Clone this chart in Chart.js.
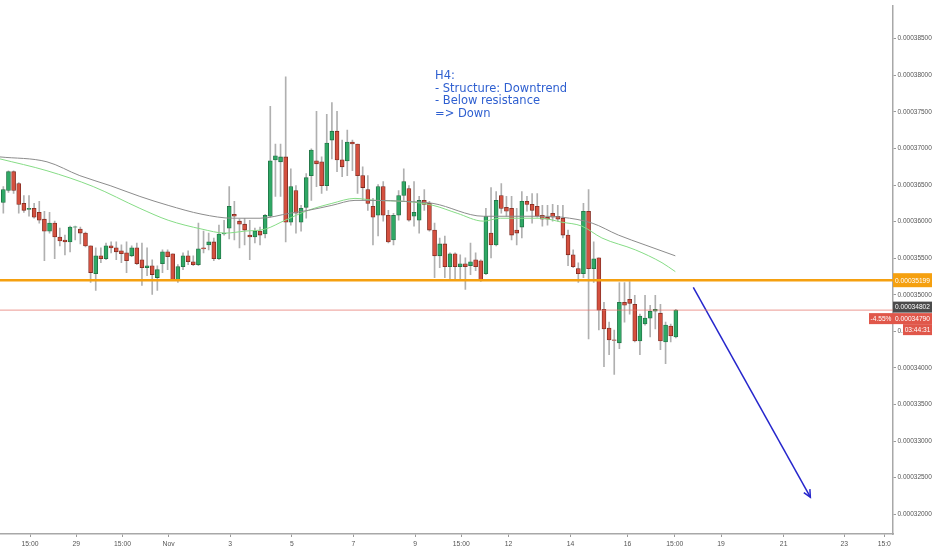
<!DOCTYPE html>
<html>
<head>
<meta charset="utf-8">
<title>H4 chart</title>
<script src="https://cdn.jsdelivr.net/npm/chart.js@4.4.0/dist/chart.umd.min.js"></script>
<style>
html, body { margin: 0; padding: 0; background: #fff; }
#wrap { position: relative; width: 932px; height: 550px; }
</style>
</head>
<body>
<div id="wrap"><canvas id="chart"></canvas></div>
<script>
"use strict";

// prices are kept in units of 1e-8 (36262 -> 0.00036262), one H4 candle per index
const opens = [
  36262, 36425, 36682, 36519, 36249, 36168, 36181, 36127, 36033, 35870,
  35979, 35789, 35749, 35722, 35925, 35897, 35843, 35668, 35289, 35532,
  35492, 35668, 35641, 35600, 35573, 35532, 35641, 35478, 35370, 35397,
  35235, 35424, 35587, 35560, 35194, 35384, 35532, 35451, 35411, 35641,
  35681, 35722, 35492, 35830, 35911, 36100, 36006, 35965, 35816, 35789,
  35870, 35830, 36073, 36844, 36817, 36884, 35992, 36425, 35992, 36195,
  36628, 36830, 36817, 36492, 37114, 37236, 36844, 36830, 37087, 37060,
  36628, 36438, 36208, 36087, 36479, 36087, 35749, 36087, 36357, 36452,
  36073, 36019, 36290, 36249, 35884, 35532, 35695, 35384, 35560, 35384,
  35424, 35397, 35478, 35465, 35289, 35843, 35681, 36357, 36195, 36181,
  35884, 35925, 36276, 36235, 36208, 36087, 36060, 36114, 36073, 36046,
  35816, 35546, 35357, 35289, 36141, 35357, 35505, 34802, 34545, 34383,
  34343, 34897, 34938, 34870, 34370, 34600, 34681, 34775, 34748, 34356,
  34572, 34424
];
const highs = [
  36479, 36695, 36695, 36533, 36357, 36357, 36249, 36276, 36141, 36127,
  36006, 35911, 35816, 35938, 35938, 35925, 35857, 35668, 35641, 35641,
  35708, 35722, 35722, 35681, 35722, 35668, 35708, 35708, 35641, 35478,
  35397, 35614, 35614, 35560, 35411, 35573, 35600, 35532, 35979, 35870,
  35843, 35776, 35952, 36019, 36479, 36276, 36033, 36046, 36019, 35911,
  35925, 36100, 37574, 37060, 37060, 37980, 36722, 36492, 36222, 36655,
  36993, 37506, 36884, 37466, 37628, 37506, 37114, 37250, 37114, 37060,
  36749, 36628, 36317, 36506, 36546, 36154, 36114, 36425, 36722, 36492,
  36546, 36344, 36438, 36276, 35979, 35776, 35803, 35573, 35573, 35546,
  35505, 35708, 35573, 35478, 36181, 36465, 36411, 36519, 36344, 36344,
  36181, 36411, 36344, 36384, 36384, 36222, 36222, 36235, 36222, 36222,
  35884, 35614, 35438, 36249, 36438, 35722, 35505, 34897, 34627, 34518,
  35167, 35167, 35181, 34992, 34735, 34992, 34856, 34992, 34870, 34627,
  34600, 34802
];
const lows = [
  36114, 36398, 36384, 36114, 36127, 36073, 36046, 35979, 35465, 35843,
  35492, 35668, 35546, 35587, 35749, 35695, 35654, 35167, 35059, 35438,
  35478, 35573, 35478, 35438, 35303, 35519, 35411, 35127, 35262, 35005,
  35059, 35303, 35343, 35194, 35167, 35343, 35411, 35397, 35397, 35573,
  35614, 35465, 35478, 35816, 35762, 35749, 35641, 35681, 35478, 35708,
  35681, 35776, 36060, 36344, 36344, 35722, 35952, 35843, 35870, 36046,
  36290, 36479, 36384, 36425, 36857, 36682, 36614, 36628, 36695, 36384,
  36290, 36154, 35681, 35803, 36006, 35708, 35681, 36019, 36290, 36006,
  35938, 35843, 36154, 35870, 35235, 35370, 35235, 35208, 35208, 35208,
  35073, 35276, 35330, 35181, 35276, 35505, 35668, 36114, 36073, 35749,
  35681, 35776, 36141, 35979, 36060, 35938, 35952, 36006, 36006, 35776,
  35397, 35370, 35167, 35235, 34397, 35167, 34518, 34018, 34180, 33910,
  34262, 34627, 34735, 34356, 34180, 34586, 34424, 34532, 34248, 34059,
  34356, 34410
];
const closes = [
  36438, 36682, 36425, 36235, 36154, 36181, 36060, 36019, 35870, 35979,
  35789, 35735, 35722, 35925, 35930, 35843, 35668, 35303, 35532, 35492,
  35668, 35641, 35587, 35560, 35465, 35641, 35424, 35370, 35397, 35276,
  35343, 35587, 35519, 35208, 35384, 35532, 35451, 35411, 35627, 35627,
  35722, 35492, 35830, 35843, 36208, 36073, 35965, 35884, 35789, 35870,
  35816, 36087, 36830, 36898, 36884, 35992, 36479, 36114, 36181, 36600,
  36979, 36790, 36492, 37074, 37236, 36844, 36749, 37087, 37060, 36628,
  36465, 36249, 36060, 36479, 36087, 35722, 36087, 36357, 36546, 36019,
  36127, 36290, 36235, 35884, 35532, 35695, 35384, 35560, 35384, 35424,
  35384, 35451, 35384, 35194, 36073, 35681, 36290, 36181, 36141, 35816,
  35843, 36276, 36235, 36154, 36073, 36033, 36033, 36060, 36033, 35816,
  35546, 35384, 35289, 36141, 35357, 35492, 34789, 34532, 34383, 34376,
  34897, 34856, 34883, 34370, 34708, 34681, 34775, 34802, 34370, 34586,
  34437, 34790
];

// moving averages read at a few candle positions
const slowMaAt = [-0.65, 8.5, 14.9, 20.8, 26.6, 32.1, 38.7, 44.7, 50.0, 55.8, 59.4, 64.0,
  68.5, 72.4, 78.3, 83.7, 93.5, 104.6, 108.8, 114.7, 119.8, 125.0, 130.9];
const slowMa = [36884, 36817, 36628, 36492, 36344, 36222, 36100, 36046, 36046, 36114, 36154, 36222,
  36290, 36290, 36276, 36249, 36073, 36073, 36060, 35979, 35816, 35681, 35532];
const fastMaAt = [-0.65, 8.5, 17.5, 26.6, 32.1, 38.7, 43.2, 47.1, 51.0, 54.9, 59.4, 64.0, 68.5,
  72.4, 78.3, 83.7, 88.4, 93.5, 96.8, 104.6, 108.8, 112.7, 116.6, 123.1, 128.3, 130.9];
const fastMa = [36857, 36695, 36479, 36181, 36019, 35897, 35843, 35870, 35897, 36019, 36154, 36249, 36317,
  36290, 36276, 36222, 36114, 36006, 36046, 36046, 35992, 35938, 35776, 35614, 35438, 35316];

const resistance = 35199;
const lastPrice = 34790;
const refPrice = 34802;
const changeText = '-4.55%';
const countdown = '03:44:31';

const arrowAt = [134.4, 157.2];
const arrowPrice = [35100, 32234];

const noteLines = ['H4:', '- Structure: Downtrend', '- Below resistance', '=> Down'];

const priceTicks = [32000, 32500, 33000, 33500, 34000, 34500, 35000, 35500, 36000, 36500, 37000, 37500, 38000, 38500];
const timeTickAt = [5.2, 14.2, 23.2, 32.2, 44.2, 56.2, 68.2, 80.2, 89.2, 98.4, 110.5, 121.6, 130.8, 139.8, 152.0, 163.8, 171.6];
const timeTickLabels = ['15:00', '29', '15:00', 'Nov', '3', '5', '7', '9', '15:00', '12', '14', '16', '15:00', '19', '21', '23', '15:0'];

const X_MIN = -0.65, X_MAX = 173.3;
const Y_MIN = 31730, Y_MAX = 38955;

const UP = '#2fa865', UP_EDGE = '#1f6e42';
const DOWN = '#d4503f', DOWN_EDGE = '#7d2a20';

const isUp = i => closes[i] >= opens[i];
const fmt = v => (v / 1e8).toFixed(8);

const bodies = opens.map((o, i) => ({ x: i, y: [o, closes[i]] }));
const wicks = lows.map((l, i) => ({ x: i, y: [l, highs[i]] }));

const overlay = {
    id: 'overlay',
    afterDraw(chart) {
        const ctx = chart.ctx;
        const xs = chart.scales.x, ys = chart.scales.y;
        ctx.save();

        // arrow head
        const x1 = xs.getPixelForValue(arrowAt[0]), y1 = ys.getPixelForValue(arrowPrice[0]);
        const x2 = xs.getPixelForValue(arrowAt[1]), y2 = ys.getPixelForValue(arrowPrice[1]);
        const a = Math.atan2(y2 - y1, x2 - x1);
        ctx.strokeStyle = '#2626cc';
        ctx.lineWidth = 1.5;
        ctx.beginPath();
        ctx.moveTo(x2 - 8 * Math.cos(a - 0.45), y2 - 8 * Math.sin(a - 0.45));
        ctx.lineTo(x2, y2);
        ctx.lineTo(x2 - 8 * Math.cos(a + 0.45), y2 - 8 * Math.sin(a + 0.45));
        ctx.stroke();

        // note
        ctx.fillStyle = '#2e5fd0';
        ctx.font = '11.5px "DejaVu Sans"';
        ctx.textBaseline = 'middle';
        ctx.textAlign = 'left';
        noteLines.forEach((t, i) => ctx.fillText(t, 435, 76 + i * 12.6));

        // price labels on the axis
        const right = chart.width;
        const ax = xs.right;
        const box = (x, yc, w, h, bg, text) => {
            ctx.fillStyle = bg;
            ctx.fillRect(x, yc - h / 2, w, h);
            ctx.fillStyle = '#fff';
            ctx.font = '6.6px "Liberation Sans"';
            ctx.textAlign = 'center';
            ctx.fillText(text, x + w / 2, yc + 0.5);
        };
        const yR = ys.getPixelForValue(resistance);
        const yL = ys.getPixelForValue(lastPrice);
        box(ax, yR, right - ax, 14, '#f5a00f', fmt(resistance));
        box(ax, yL - 3, right - ax, 11, '#4b4b4b', fmt(refPrice));
        box(ax, yL + 8.5, right - ax, 11, '#e0574a', fmt(lastPrice));
        box(ax - 24, yL + 8.5, 24, 11, '#e0574a', changeText);
        box(ax + 10, yL + 19.5, right - ax - 10, 11, '#e0574a', countdown);
        ctx.restore();
    }
};

const ctx = document.getElementById('chart').getContext('2d');

new Chart(ctx, {
    type: 'bar',
    data: {
        datasets: [
            {
                type: 'line',
                data: slowMa.map((v, i) => ({ x: slowMaAt[i], y: v })),
                borderColor: '#8c8c8c',
                borderWidth: 1,
                pointRadius: 0,
                cubicInterpolationMode: 'monotone',
                order: 0
            },
            {
                type: 'line',
                data: fastMa.map((v, i) => ({ x: fastMaAt[i], y: v })),
                borderColor: '#86dc86',
                borderWidth: 1,
                pointRadius: 0,
                cubicInterpolationMode: 'monotone',
                order: 0
            },
            {
                type: 'line',
                data: [{ x: X_MIN, y: resistance }, { x: X_MAX, y: resistance }],
                borderColor: '#f5a00f',
                borderWidth: 2.5,
                pointRadius: 0,
                order: 0
            },
            {
                type: 'line',
                data: [{ x: X_MIN, y: lastPrice }, { x: X_MAX, y: lastPrice }],
                borderColor: 'rgba(228, 110, 100, 0.7)',
                borderWidth: 1,
                pointRadius: 0,
                order: 0
            },
            {
                type: 'line',
                data: arrowPrice.map((v, i) => ({ x: arrowAt[i], y: v })),
                borderColor: '#2626cc',
                borderWidth: 1.5,
                pointRadius: 0,
                order: 0
            },
            {
                data: bodies,
                grouped: false,
                barThickness: 4,
                backgroundColor: c => isUp(c.dataIndex) ? UP : DOWN,
                borderColor: c => isUp(c.dataIndex) ? UP_EDGE : DOWN_EDGE,
                borderWidth: 0.8,
                borderSkipped: false,
                order: 1
            },
            {
                data: wicks,
                grouped: false,
                barThickness: 1,
                backgroundColor: '#b0b0b0',
                order: 2
            }
        ]
    },
    options: {
        responsive: true,
        maintainAspectRatio: false,
        animation: false,
        layout: { padding: 0 },
        plugins: {
            legend: { display: false },
            tooltip: { enabled: false }
        },
        scales: {
            x: {
                type: 'linear',
                min: X_MIN,
                max: X_MAX,
                offset: false,
                afterBuildTicks: s => { s.ticks = timeTickAt.map(v => ({ value: v })); },
                afterFit: s => { s.height = 16; },
                grid: { offset: false, drawOnChartArea: false, tickLength: 3, color: '#9a9a9a' },
                border: { color: '#a8a8a8', width: 1.5 },
                ticks: {
                    autoSkip: false,
                    maxRotation: 0,
                    padding: 3,
                    color: '#555',
                    font: { family: 'Liberation Sans', size: 6.8 },
                    callback: (v, i) => timeTickLabels[i]
                }
            },
            y: {
                position: 'right',
                min: Y_MIN,
                max: Y_MAX,
                afterBuildTicks: s => { s.ticks = priceTicks.map(v => ({ value: v })); },
                afterFit: s => { s.width = 39; },
                grid: { offset: false, drawOnChartArea: false, tickLength: 3, color: '#9a9a9a' },
                border: { color: '#a8a8a8', width: 1.5 },
                ticks: {
                    padding: 1.5,
                    color: '#555',
                    font: { family: 'Liberation Sans', size: 6.5 },
                    callback: v => fmt(v)
                }
            }
        }
    },
    plugins: [overlay]
});
</script>
</body>
</html>
